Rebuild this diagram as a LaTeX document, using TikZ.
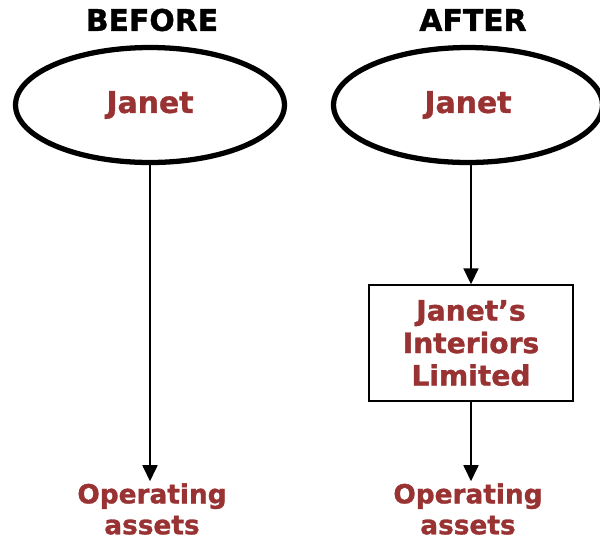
\documentclass[tikz,border=0pt]{standalone}
\usepackage{fontspec}
\setmainfont{DejaVu Sans}[BoldFeatures={FakeBold=1.2}]
\usetikzlibrary{shapes.geometric,arrows.meta}
\definecolor{ownerred}{RGB}{153,51,51}
\tikzset{
  heading/.style={font=\fontsize{17}{19}\selectfont\bfseries, text=black},
  owner/.style={ellipse, draw, line width=3pt, minimum width=5.38cm, minimum height=2.3cm,
    font=\fontsize{17}{19}\selectfont\bfseries, text=ownerred},
  company/.style={rectangle, draw, line width=0.8pt, minimum width=4.08cm, minimum height=2.32cm,
    align=center, font=\fontsize{16}{18.5}\selectfont\bfseries, text=ownerred},
  assets/.style={align=center, inner sep=1pt, font=\fontsize{15}{17.6}\selectfont\bfseries, text=ownerred},
  link/.style={line width=1pt, -{Triangle[length=0.32cm,width=0.3cm]}}
}
\begin{document}
\begin{tikzpicture}[x=0.02cm,y=-0.02cm]
\useasboundingbox (0,0) rectangle (600,539);
% headings
\node[heading] (before) at (152,20) {BEFORE};
\node[heading] (after) at (473,20) {AFTER};
% owners
\node[owner] (janetL) at (150,105) {Janet};
\node[owner] (janetR) at (468,105) {Janet};
\node[company] (jil) at (471,343) {Janet’s\\Interiors\\Limited};
% assets
\node[assets] (assetsL) at (152,509) {Operating\\assets};
\node[assets] (assetsR) at (468,509) {Operating\\assets};
% links
\draw[link] (janetL.south) -- (janetL.south |- assetsL.north);
\draw[link] (janetR.south -| jil.north) -- (jil.north);
\draw[link] (jil.south) -- (jil.south |- assetsR.north);
\end{tikzpicture}
\end{document}
